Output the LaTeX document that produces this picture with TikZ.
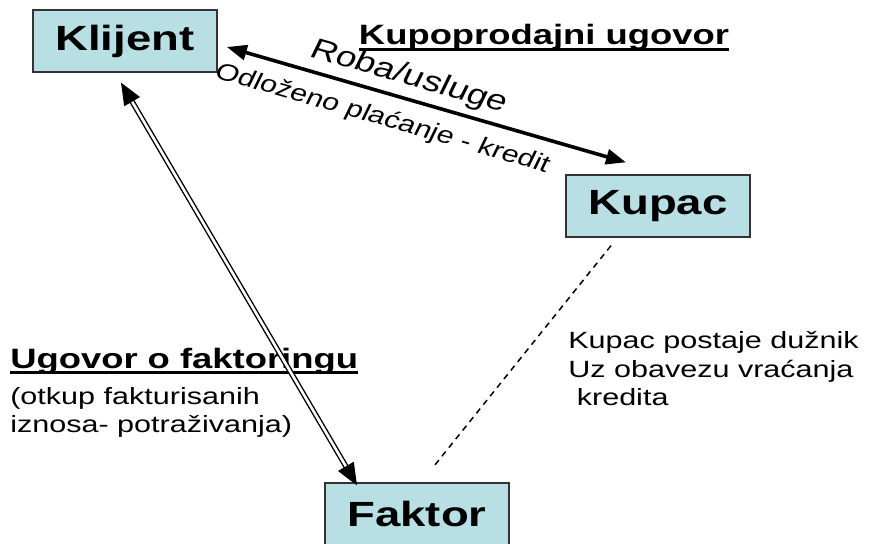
\documentclass[tikz,border=0pt]{standalone}
\usepackage{fontspec}
\setmainfont{Liberation Sans}
\usetikzlibrary{arrows.meta,calc}
\definecolor{boxfill}{RGB}{184,223,227}
\begin{document}
\begin{tikzpicture}[x=1pt,y=-1pt,
  box/.style={draw=black!80, line width=1.3pt, fill=boxfill, minimum width=141.5pt, minimum height=62pt, inner sep=0pt, font=\fontsize{35}{40}\selectfont\bfseries},
  lbl/.style={inner sep=0pt, font=\fontsize{23.5}{28}\selectfont},
  blbl/.style={inner sep=0pt, font=\fontsize{28}{32}\selectfont\bfseries},
  slant/.style={inner sep=0pt, rotate=-20.5, anchor=base west},
  ulin/.style={line width=2.6pt},
  headA/.style={{Triangle[length=20pt,width=15pt]}-{Triangle[length=20pt,width=15pt]}},
  headB/.style={{Triangle[length=22pt,width=18pt]}-{Triangle[length=22pt,width=18pt]}}
  ]
\useasboundingbox (0,0) rectangle (869,543);
\fill[white] (0,0) rectangle (869,543);
\begin{scope}[xscale=1.3, transform shape, x=0.769231pt]
\node[box] (klijent) at (125,41) {Klijent};
\node[box] (kupac) at (658,206) {Kupac};
\node[box] (faktor) at (417,514) {Faktor};
\node[blbl, anchor=base] (kup) at (544,45) {Kupoprodajni ugovor};
\node[blbl, anchor=base west] (ugf) at (10,368) {Ugovor o faktoringu};
\node[lbl, anchor=base west] (o1) at (10,404) {(otkup fakturisanih};
\node[lbl, anchor=base west] (o2) at (10,432) {iznosa- potraživanja)};
\node[lbl, anchor=base west] (k1) at (568,348) {Kupac postaje dužnik};
\node[lbl, anchor=base west] (k2) at (568,377) {Uz obavezu vraćanja};
\node[lbl, anchor=base west] (k3) at (568,405) {\hspace{0.28em}kredita};
\node[slant, font=\fontsize{28.5}{32}\selectfont] (roba) at (308,56) {Roba/usluge};
\node[slant, font=\fontsize{23.5}{28}\selectfont] (odl) at (213,77) {Odloženo plaćanje - kredit};
\end{scope}
\draw[ulin] ([yshift=-4.5pt]kup.base west) -- ([yshift=-4.5pt]kup.base east);
\draw[ulin] ([yshift=-4.5pt]ugf.base west) -- ([yshift=-4.5pt]ugf.base east);
\draw[line width=3.6pt, headA] ($(klijent.east)+(9,6)$) -- ($(kupac.north)+(-32,-12)$);
\draw[double, double distance=2.6pt, line width=1.4pt, headB] ($(klijent.south)+(-4,10)$) -- ($(faktor.north)+(-60,3)$);
\draw[line width=1.5pt, dash pattern=on 6pt off 5pt] ($(kupac.south)+(-47,8)$) -- ($(faktor.north)+(16,-15)$);
\end{tikzpicture}
\end{document}
